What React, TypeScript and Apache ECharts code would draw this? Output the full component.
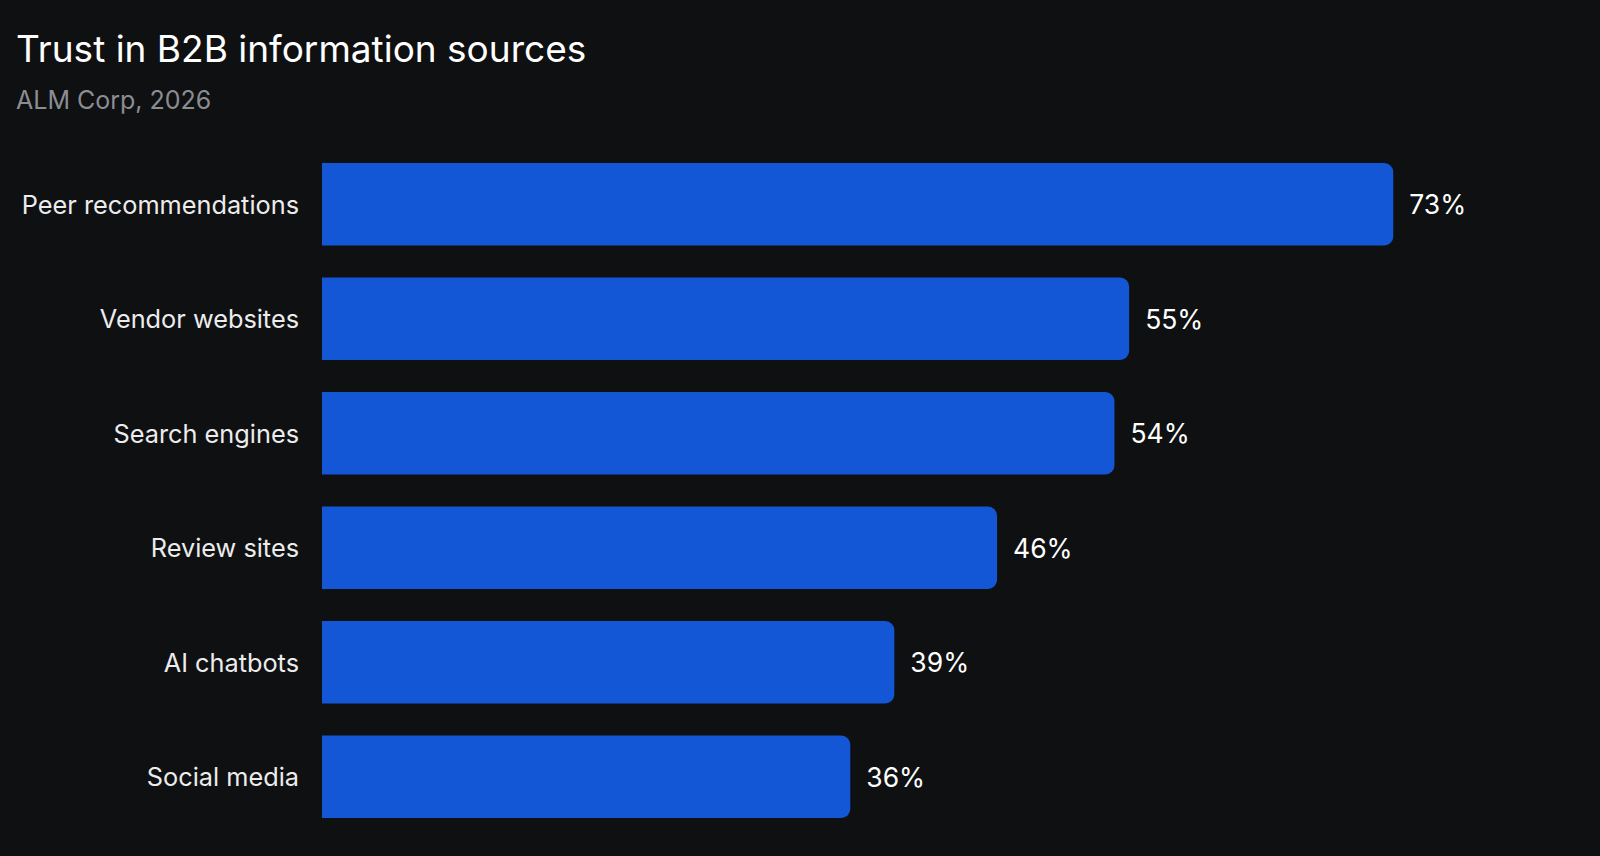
import React, { useEffect, useRef } from "react";
import * as echarts from "echarts";

const categories = [
  "Peer recommendations",
  "Vendor websites",
  "Search engines",
  "Review sites",
  "AI chatbots",
  "Social media",
];
const values = [73, 55, 54, 46, 39, 36];
const titleText = "Trust in B2B information sources";
const subtitleText = "ALM Corp, 2026";

export default function App() {
  const ref = useRef<HTMLDivElement>(null);
  useEffect(() => {
    if (!ref.current) return;
    const chart = echarts.init(ref.current, null, { renderer: "svg" });
    chart.setOption({
      animation: false,
      backgroundColor: "#0f1012",
      title: {
        text: titleText,
        subtext: subtitleText,
        left: 11,
        top: 25,
        itemGap: 20,
        textStyle: {
          color: "#ffffff",
          fontFamily: "Inter",
          fontSize: 37,
          fontWeight: 400,
        },
        subtextStyle: {
          color: "#8b8d93",
          fontFamily: "Inter",
          fontSize: 25,
          fontWeight: 400,
        },
      },
      grid: { left: 322, right: 104, top: 147, bottom: 22, containLabel: false },
      xAxis: {
        type: "value",
        min: 0,
        max: 80,
        show: false,
      },
      yAxis: {
        type: "category",
        data: categories,
        inverse: true,
        axisLine: { show: false },
        axisTick: { show: false },
        splitLine: { show: false },
        axisLabel: {
          color: "#ececec",
          fontFamily: "Inter",
          fontSize: 25.3,
          margin: 23,
        },
      },
      series: [
        {
          type: "bar",
          data: values,
          barCategoryGap: "28%",
          itemStyle: { color: "#1356d6", borderRadius: [0, 9, 9, 0] },
          label: {
            show: true,
            position: "right",
            distance: 16,
            formatter: "{c}%",
            color: "#ffffff",
            fontFamily: "Inter",
            fontSize: 26.5,
          },
        },
      ],
    });
    return () => chart.dispose();
  }, []);
  return (
    <div
      ref={ref}
      style={{ position: "fixed", left: 0, top: 0, width: 1600, height: 856 }}
    />
  );
}
